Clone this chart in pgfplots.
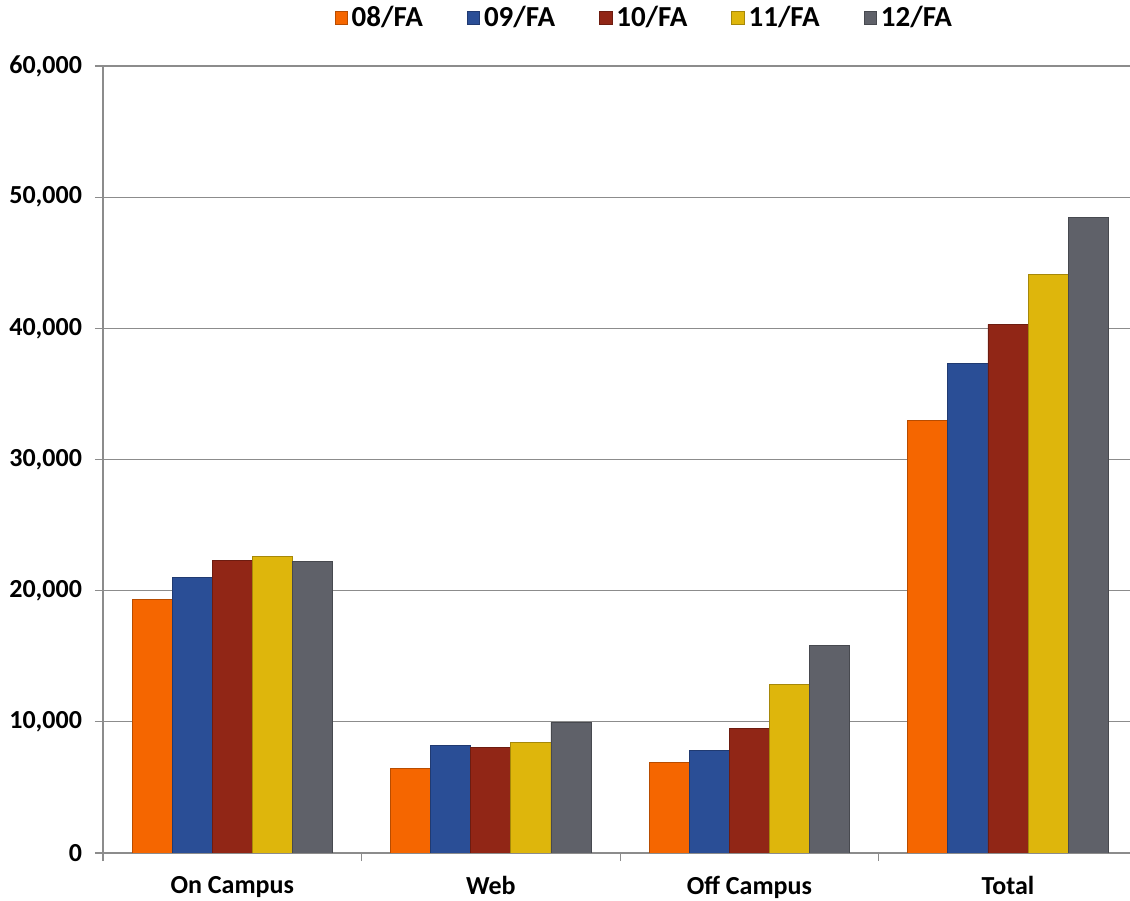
\documentclass[border=0pt]{standalone}
\usepackage{pgfplots}
\pgfplotsset{compat=1.18}
\usepackage{fontspec}
\setmainfont{Carlito}
\definecolor{c08}{RGB}{245,102,0}
\definecolor{c09}{RGB}{42,78,150}
\definecolor{c10}{RGB}{145,38,22}
\definecolor{c11}{RGB}{222,182,12}
\definecolor{c12}{RGB}{95,97,105}
\definecolor{gridc}{RGB}{140,140,140}
\pgfplotsset{/pgfplots/ybar legend/.style={/pgfplots/legend image code/.code={\draw[##1,/tikz/.cd,yshift=0pt] (0pt,-3.4pt) rectangle (6.2pt,3.4pt);}}}
\begin{document}
\begin{tikzpicture}
\useasboundingbox (-51.5pt,-23.5pt) rectangle (513.5pt,426.5pt);
\begin{axis}[
  at={(0pt,0pt)}, anchor=south west,
  scale only axis, width=513.5pt, height=393.5pt,
  xmin=-0.5, xmax=3.472, ymin=0, ymax=60000,
  ybar=0pt, bar width=0.155,
  xtick={0,1,2,3}, xticklabels={On Campus,Web,Off Campus,Total},
  minor xtick={-0.5,0.5,1.5,2.5},
  ytick={0,10000,20000,30000,40000,50000,60000},
  axis lines*=left,
  ymajorgrids, grid style={draw=gridc, line width=0.6pt},
  major tick length=4pt, minor tick length=4pt, tick align=outside,
  major x tick style={draw=none},
  tick style={draw=gridc, line width=0.6pt},
  axis line style={draw=gridc, line width=0.6pt},
  scaled y ticks=false,
  /pgf/number format/.cd, 1000 sep={,}, assume math mode=true, /pgfplots/.cd,
  ticklabel style={font=\fontsize{13}{15}\selectfont\bfseries},
  yticklabel style={xshift=-3pt},
  xticklabel style={yshift=-4pt},
  legend style={at={(0.528,1.061)}, anchor=center, draw=none, fill=none,
    legend columns=5, font=\fontsize{14.5}{17}\selectfont\bfseries,
    /tikz/every even column/.append style={column sep=20pt}},
]
\addplot[fill=c08, draw=c08!75!black, line width=0.4pt] coordinates {(0,19340) (1,6460) (2,6910) (3,33010)};
\addplot[fill=c09, draw=c09!75!black, line width=0.4pt] coordinates {(0,21020) (1,8230) (2,7800) (3,37330)};
\addplot[fill=c10, draw=c10!75!black, line width=0.4pt] coordinates {(0,22280) (1,8030) (2,9510) (3,40310)};
\addplot[fill=c11, draw=c11!75!black, line width=0.4pt] coordinates {(0,22590) (1,8440) (2,12860) (3,44140)};
\addplot[fill=c12, draw=c12!75!black, line width=0.4pt] coordinates {(0,22210) (1,9960) (2,15830) (3,48460)};
\legend{08/FA,09/FA,10/FA,11/FA,12/FA}
\end{axis}
\end{tikzpicture}
\end{document}
